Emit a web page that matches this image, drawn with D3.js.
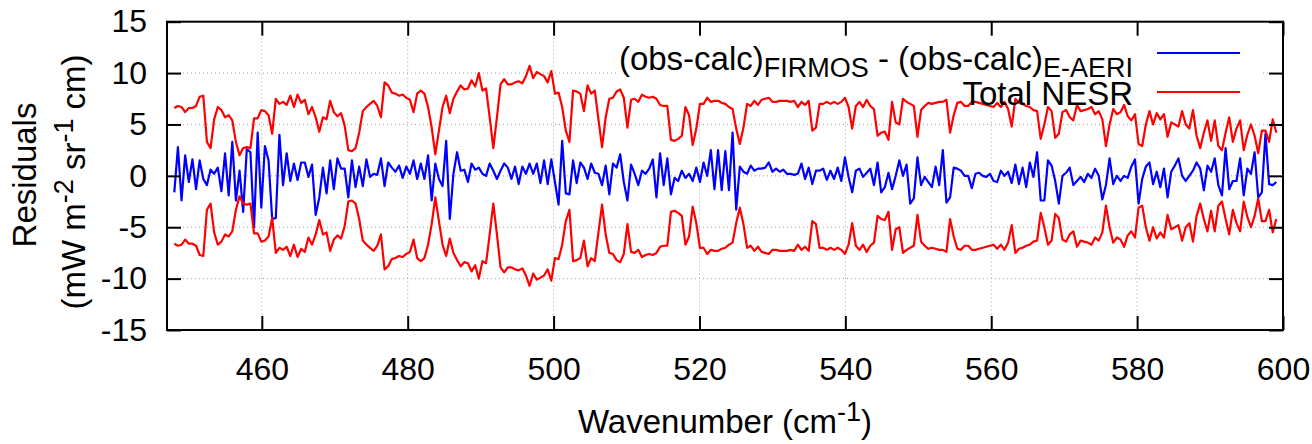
<!DOCTYPE html>
<html>
<head>
<meta charset="utf-8">
<script src="https://cdn.jsdelivr.net/npm/d3@7"></script>
<style>
  body { margin: 0; background: #fff; }
  text { font-family: "Liberation Sans", Arial, sans-serif; fill: #000; }
</style>
</head>
<body>
<div id="chart"></div>
<script>
// spectral grid (cm-1): first sample and sampling step
var wnStart = 448.0;
var wnStep = 0.497;

// (obs-calc)FIRMOS - (obs-calc)E-AERI
var diffValues = [
  -1.6, 2.8, -2.4, 2.0, -0.6, 1.6, -1.3, 1.5, -0.3, -0.9,
  0.6, 0.2, 0.8, -1.5, 2.2, -1.9, 3.3, -2.4, 0.5, -3.5,
  2.6, 2.3, -5.0, 4.2, -3.1, 2.9, 1.5, -4.2, -4.1, 4.0,
  -0.9, 2.2, -0.5, 1.2, -0.4, 1.3, 1.3, -0.1, 1.1, -3.8,
  -2.1, 0.8, -1.7, 1.5, -1.3, 1.7, 0.7, 0.7, -2.1, 1.5,
  -1.1, 0.9, -1.0, 1.6, -0.1, 0.2, 0.1, 1.7, -1.0, 1.3,
  0.8, 0.4, 1.0, -0.2, 0.9, 0.2, 1.5, -0.3, 1.2, -0.3,
  2.0, -2.4, 1.2, -0.3, -1.0, 3.4, -4.2, 0.2, 2.3, 0.5,
  0.6, -0.6, 1.2, 0.6, 0.8, 0.2, 0.0, 1.2, 0.5, -0.3,
  0.5, 1.2, 0.8, -0.3, 0.9, -0.8, 0.9, 0.2, 1.2, 0.2,
  1.2, -0.7, 1.5, -0.8, 1.6, -0.6, -2.8, 3.4, -1.7, -1.8,
  1.5, -0.7, 1.3, 0.8, -0.3, 1.2, 0.3, 0.2, -0.9, 1.0,
  -1.8, 1.2, 0.8, 2.1, -0.6, -2.4, 1.1, 0.2, -0.9, 0.5,
  0.2, 0.7, 1.6, -2.1, 2.2, -0.9, 1.7, -1.8, -0.2, -0.5,
  0.5, -0.2, 0.2, -0.5, 0.8, -0.6, 1.3, 0.0, 2.5, -1.3,
  2.5, -1.4, 2.4, -1.4, 4.2, -3.3, 0.9, 0.4, 0.2, 1.0,
  0.5, 0.7, 0.7, 0.8, 1.3, 0.4, 0.7, 0.4, 0.6, 0.2,
  0.2, 0.1, 0.2, 1.2, -0.3, 0.8, -0.8, 0.5, 0.5, 0.7,
  -0.4, 0.5, -0.3, 0.8, -0.5, 1.8, -0.1, -1.6, 0.5, 0.7,
  -0.1, 0.3, 0.7, -0.9, 1.3, -1.6, -1.1, 0.3, -1.3, 0.0,
  1.5, 0.0, 1.1, -2.7, -2.2, 1.8, -0.9, -0.1, -0.6, -1.1,
  0.9, -0.9, 2.5, -2.6, -2.1, 0.8, 0.7, 0.5, 0.0, 0.0,
  -1.2, 0.2, 0.3, 0.0, -0.1, 0.2, -0.5, -0.6, 0.5, 0.0,
  0.4, -0.7, 1.1, -0.8, 0.8, -1.1, 1.3, -0.1, 2.3, -2.4,
  -2.4, 1.5, 1.0, -0.5, -2.7, 0.0, 0.3, 0.8, -0.9, -0.5,
  -0.1, -0.6, 0.2, -0.2, 0.7, 0.0, -2.3, -0.9, 1.7, -0.8,
  0.0, -0.5, 0.0, -0.2, 0.9, 1.6, -2.7, -0.3, 0.9, 1.3,
  -0.8, 0.4, -1.1, 0.7, -2.1, 0.4, 1.0, 1.7, 0.0, -0.5,
  0.0, 0.5, 1.3, 0.7, -1.4, 1.0, 0.4, 1.7, -0.9, -1.9,
  2.7, -1.3, -0.5, -0.5, 1.7, -1.9, 0.7, 0.2, 2.3, -2.1,
  -1.6, 4.1, -0.8, -0.9, -0.6
];

// Total NESR (drawn as +/- envelope)
var nesrValues = [
  6.6, 6.8, 6.7, 6.2, 6.6, 6.6, 6.8, 7.7, 7.8, 3.3,
  2.7, 5.5, 6.7, 6.4, 5.7, 5.9, 5.4, 3.3, 2.0, 2.7,
  2.8, 2.7, 5.6, 5.6, 6.4, 6.3, 5.9, 4.1, 7.5, 7.0,
  7.2, 6.9, 7.8, 6.7, 7.9, 7.1, 7.4, 6.0, 6.7, 5.7,
  4.3, 5.7, 5.5, 7.3, 6.2, 5.8, 6.1, 4.9, 2.5, 2.4,
  2.7, 4.2, 6.3, 6.7, 7.0, 7.3, 6.8, 5.7, 9.1, 8.8,
  8.1, 8.0, 7.8, 7.9, 7.6, 7.4, 6.2, 8.0, 8.3, 8.0,
  6.7, 4.7, 2.1, 4.4, 6.7, 7.8, 6.1, 7.5, 8.2, 8.8,
  8.4, 8.5, 9.3, 8.7, 10.0, 8.3, 8.5, 5.7, 2.7, 5.7,
  8.9, 9.4, 8.9, 8.9, 9.1, 9.2, 9.0, 9.7, 10.7, 9.5,
  10.1, 9.9, 9.7, 9.1, 10.2, 8.0, 8.1, 6.7, 4.4, 3.3,
  8.3, 8.2, 8.0, 6.3, 8.8, 8.0, 8.3, 5.5, 2.8, 5.7,
  7.5, 7.6, 8.2, 8.4, 7.6, 4.7, 7.4, 7.5, 7.2, 7.9,
  7.7, 7.6, 7.7, 7.5, 6.9, 6.8, 6.8, 3.5, 3.4, 3.6,
  3.9, 6.7, 5.9, 3.0, 4.6, 7.0, 7.0, 7.6, 7.2, 7.3,
  7.3, 7.1, 7.0, 6.7, 6.5, 4.6, 3.1, 4.7, 7.0, 6.8,
  7.3, 6.9, 7.4, 7.5, 7.6, 7.2, 7.2, 7.3, 7.3, 7.3,
  7.2, 7.3, 6.7, 7.2, 6.9, 7.3, 4.4, 4.7, 7.0, 7.0,
  7.2, 7.0, 7.2, 7.0, 7.2, 7.6, 6.7, 4.6, 6.8, 7.2,
  6.7, 7.4, 6.8, 6.5, 3.9, 4.2, 4.3, 3.5, 7.2, 5.2,
  5.0, 7.5, 7.2, 7.0, 6.8, 3.8, 6.4, 6.8, 7.1, 7.0,
  7.1, 7.2, 7.2, 7.4, 4.2, 5.9, 7.1, 7.2, 6.8, 6.8,
  7.2, 7.2, 7.1, 7.0, 6.9, 6.8, 6.7, 7.1, 6.7, 7.2,
  6.5, 4.8, 7.5, 7.1, 7.0, 6.8, 6.7, 6.4, 6.3, 3.6,
  5.0, 6.7, 6.3, 3.7, 4.1, 6.2, 6.4, 5.7, 5.4, 6.9,
  6.3, 6.4, 6.5, 6.7, 6.0, 6.3, 5.5, 2.9, 5.0, 6.5,
  6.0, 6.2, 6.9, 5.8, 5.4, 6.0, 3.1, 2.9, 5.0, 6.3,
  5.0, 6.1, 5.5, 6.0, 3.8, 5.2, 5.0, 4.8, 6.3, 5.0,
  4.6, 6.4, 3.9, 2.7, 4.2, 5.4, 3.4, 5.4, 2.9, 2.5,
  4.2, 5.7, 3.3, 4.6, 5.4, 2.5, 4.0, 5.0, 3.9, 2.2,
  4.4, 4.4, 3.3, 5.5, 4.2
];

var xTicks = [460, 480, 500, 520, 540, 560, 580, 600];
var xGrid = [460, 480, 500, 520, 540, 560, 580];
var yTicks = [-15, -10, -5, 0, 5, 10, 15];
var yGrid = [-10, -5, 0, 5, 10];

var width = 1312, height = 444;
var plot = {left: 167, right: 1283, top: 21.7, bottom: 330};
var tickSize = 32, fontSize = 33, smallSize = 27;

var wavenumbers = diffValues.map(function(d, i) { return wnStart + i * wnStep; });

var svg = d3.select("#chart").append("svg")
  .attr("width", width)
  .attr("height", height);

var x = d3.scaleLinear().domain([447, 600]).range([plot.left, plot.right]);
var y = d3.scaleLinear().domain([-15, 15]).range([plot.bottom, plot.top]);

// dotted grid
var grid = svg.append("g")
  .attr("stroke", "#a0a0a0")
  .attr("stroke-width", 1)
  .attr("stroke-dasharray", "1,3");

grid.selectAll("line.gx")
  .data(xGrid)
  .enter().append("line")
    .attr("x1", function(d) { return x(d); })
    .attr("x2", function(d) { return x(d); })
    .attr("y1", plot.top)
    .attr("y2", plot.bottom);

grid.selectAll("line.gy")
  .data(yGrid)
  .enter().append("line")
    .attr("x1", plot.left)
    .attr("x2", plot.right)
    .attr("y1", function(d) { return y(d); })
    .attr("y2", function(d) { return y(d); });

// key background hides the grid only
svg.append("rect")
  .attr("x", 616).attr("y", 36)
  .attr("width", 646).attr("height", 72)
  .attr("fill", "#fff");

// curves
var line = d3.line()
  .x(function(d) { return x(d[0]); })
  .y(function(d) { return y(d[1]); });

var diffPts = wavenumbers.map(function(w, i) { return [w, diffValues[i]]; });
var upperPts = wavenumbers.map(function(w, i) { return [w, nesrValues[i]]; });
var lowerPts = wavenumbers.map(function(w, i) { return [w, -nesrValues[i]]; });

svg.append("path")
  .attr("d", line(diffPts))
  .attr("fill", "none")
  .attr("stroke", "#0000ff")
  .attr("stroke-width", 2.2)
  .attr("stroke-linejoin", "round");

[upperPts, lowerPts].forEach(function(pts) {
  svg.append("path")
    .attr("d", line(pts))
    .attr("fill", "none")
    .attr("stroke", "#ff0000")
    .attr("stroke-width", 2.2)
    .attr("stroke-linejoin", "round");
});

// axes, ticks on all four sides pointing inwards
var fmt = function(d) { return String(d); };

function styleAxis(g) {
  g.select(".domain").remove();
  g.selectAll(".tick line").attr("stroke", "#000").attr("stroke-width", 2);
  g.selectAll(".tick text")
    .style("font-size", tickSize + "px")
    .attr("font-family", "Liberation Sans, Arial, sans-serif")
    .attr("fill", "#000");
}

svg.append("g")
  .attr("transform", "translate(0," + plot.bottom + ")")
  .call(d3.axisBottom(x).tickValues(xTicks).tickSize(-14).tickPadding(27).tickFormat(fmt))
  .call(styleAxis);

svg.append("g")
  .attr("transform", "translate(0," + plot.top + ")")
  .call(d3.axisTop(x).tickValues(xTicks).tickSize(-14).tickFormat(""))
  .call(styleAxis);

svg.append("g")
  .attr("transform", "translate(" + plot.left + ",0)")
  .call(d3.axisLeft(y).tickValues(yTicks).tickSize(-14).tickPadding(20).tickFormat(fmt))
  .call(styleAxis);

svg.append("g")
  .attr("transform", "translate(" + plot.right + ",0)")
  .call(d3.axisRight(y).tickValues(yTicks).tickSize(-14).tickFormat(""))
  .call(styleAxis);

// frame
svg.append("rect")
  .attr("x", plot.left).attr("y", plot.top)
  .attr("width", plot.right - plot.left)
  .attr("height", plot.bottom - plot.top)
  .attr("fill", "none")
  .attr("stroke", "#000")
  .attr("stroke-width", 2);

// text with super/subscripts: each part is offset relative to the previous one
function addParts(textSel, parts) {
  var shift = 0;
  parts.forEach(function(p) {
    var target = p.sup ? -12 : (p.sub ? 7 : 0);
    var ts = textSel.append("tspan").attr("dy", target - shift).text(p.t);
    if (p.sup || p.sub) ts.style("font-size", smallSize + "px");
    shift = target;
  });
}

svg.append("text")
  .attr("transform", "translate(36,175) rotate(-90)")
  .attr("text-anchor", "middle")
  .style("font-size", fontSize + "px")
  .text("Residuals");

var ytitle2 = svg.append("text")
  .attr("transform", "translate(85,182) rotate(-90)")
  .attr("text-anchor", "middle")
  .style("font-size", fontSize + "px");
addParts(ytitle2, [{t: "(mW m"}, {t: "-2", sup: true}, {t: " sr"}, {t: "-1", sup: true}, {t: " cm)"}]);

var xtitle = svg.append("text")
  .attr("x", (plot.left + plot.right) / 2)
  .attr("y", 433)
  .attr("text-anchor", "middle")
  .style("font-size", fontSize + "px");
addParts(xtitle, [{t: "Wavenumber (cm"}, {t: "-1", sup: true}, {t: ")"}]);

// key
var key1 = svg.append("text")
  .attr("x", 1133).attr("y", 70)
  .attr("text-anchor", "end")
  .style("font-size", fontSize + "px");
addParts(key1, [{t: "(obs-calc)"}, {t: "FIRMOS", sub: true}, {t: " - (obs-calc)"}, {t: "E-AERI", sub: true}]);

svg.append("line")
  .attr("x1", 1157).attr("x2", 1240)
  .attr("y1", 53).attr("y2", 53)
  .attr("stroke", "#0000ff").attr("stroke-width", 2.2);

svg.append("text")
  .attr("x", 1133).attr("y", 105)
  .attr("text-anchor", "end")
  .style("font-size", fontSize + "px")
  .text("Total NESR");

svg.append("line")
  .attr("x1", 1157).attr("x2", 1240)
  .attr("y1", 92).attr("y2", 92)
  .attr("stroke", "#ff0000").attr("stroke-width", 2.2);
</script>
</body>
</html>
